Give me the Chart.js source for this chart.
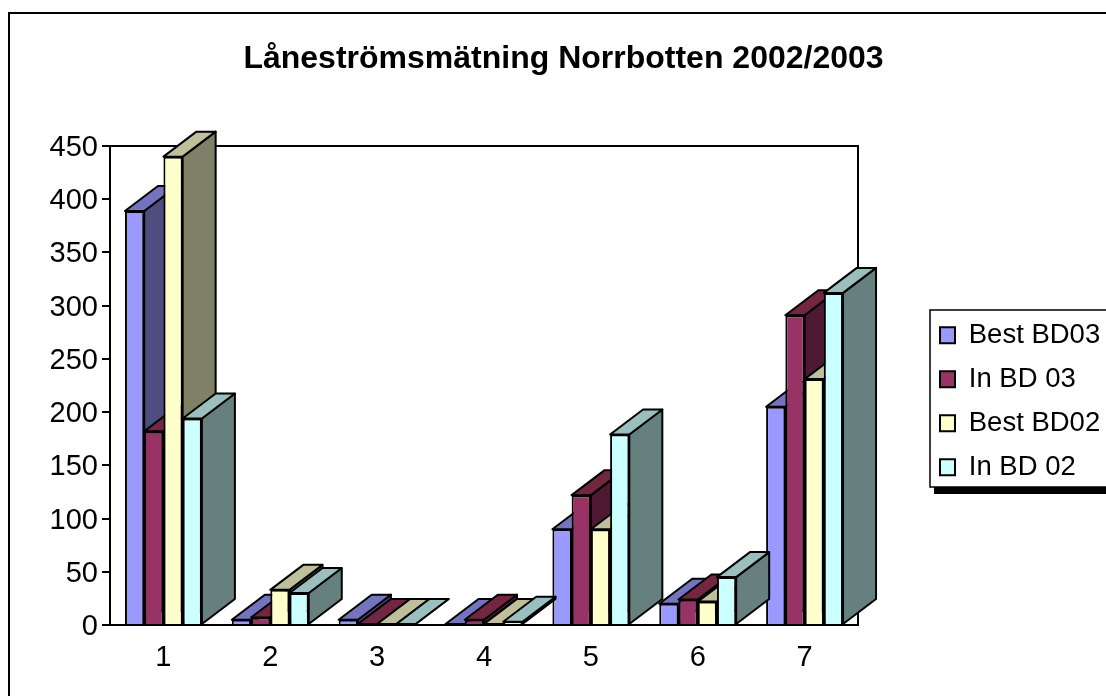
<!DOCTYPE html>
<html lang="sv">

<head>
  <meta charset="UTF-8">
  <title>Låneströmsmätning Norrbotten 2002/2003</title>
  <style>
    html, body { margin: 0; padding: 0; background: #fff; }
    #wrap { width: 1106px; height: 696px; overflow: hidden; }
  </style>
</head>

<body>
  <div id="wrap">
    <canvas id="myChart" width="1106" height="696"></canvas>
  </div>

  <script src="https://cdn.jsdelivr.net/npm/chart.js"></script>

  <script>
    const categories = ['1', '2', '3', '4', '5', '6', '7']
    const seriesNames = ['Best BD03', 'In BD 03', 'Best BD02', 'In BD 02']

    const bestBD03 = [389, 5, 5, 1, 90, 20, 205]
    const inBD03 = [182, 7, 1, 5, 122, 24, 291]
    const bestBD02 = [440, 33, 1, 1, 90, 22, 231]
    const inBD02 = [194, 30, 1, 3, 179, 45, 312]

    const frontColors = ['#9999FF', '#993366', '#FFFFCC', '#CCFFFF']
    const topColors = ['#7373BF', '#732640', '#BFBF99', '#99BFBF']
    const sideColors = ['#4D4D80', '#4D1933', '#808066', '#668080']

    // depth of the fake 3d bars, in px
    const depthX = 33
    const depthY = 25

    function face(ctx, pts, color) {
      ctx.beginPath()
      pts.forEach((p, i) => i ? ctx.lineTo(p[0], p[1]) : ctx.moveTo(p[0], p[1]))
      ctx.closePath()
      ctx.fillStyle = color
      ctx.fill()
      ctx.stroke()
    }

    const bars3d = {
      id: 'bars3d',
      beforeDraw(chart) {
        const ctx = chart.ctx
        ctx.save()
        ctx.fillStyle = '#fff'
        ctx.fillRect(0, 0, chart.width, chart.height)
        ctx.fillStyle = '#000'
        // outer frame, runs off the picture right and bottom
        ctx.fillRect(8, 12, chart.width, 2)
        ctx.fillRect(8, 12, 2, chart.height)
        // legend frame + shadow
        ctx.fillRect(934, 487, chart.width, 7)
        ctx.strokeStyle = '#000'
        ctx.lineWidth = 1.5
        ctx.fillStyle = '#fff'
        ctx.fillRect(930, 310, 200, 177)
        ctx.strokeRect(930, 310, 200, 177)
        ctx.restore()
      },
      afterLayout(chart) {
        const lg = chart.legend
        const w = lg.width, h = lg.height
        lg.left = 923.5
        lg.right = 923.5 + w
        lg.top = 305
        lg.bottom = 305 + h
        chart.titleBlock.left = 21
        chart.titleBlock.right = 1106
      },
      // paint left to right so every bar covers the side of the one before it
      beforeDatasetsDraw(chart) {
        const ctx = chart.ctx
        const a = chart.chartArea
        ctx.save()
        ctx.strokeStyle = '#000'
        ctx.lineWidth = 2
        ctx.strokeRect(a.left, a.top, a.right - a.left, a.bottom - a.top)
        ctx.lineJoin = 'round'
        chart.data.datasets.forEach((ds, d) => {
          chart.getDatasetMeta(d).data.forEach((el) => {
            const l = el.x - el.width / 2
            const r = el.x + el.width / 2
            face(ctx, [[r, el.y], [r + depthX, el.y - depthY], [r + depthX, el.base - depthY], [r, el.base]], sideColors[d])
            face(ctx, [[l, el.y], [l + depthX, el.y - depthY], [r + depthX, el.y - depthY], [r, el.y]], topColors[d])
            el.draw(ctx)
          })
        })
        ctx.restore()
        return false
      }
    }

    Chart.defaults.font.family = '"Liberation Sans", Arial, sans-serif'
    Chart.defaults.color = '#000'

    new Chart(document.getElementById('myChart'), {
      type: 'bar',
      data: {
        labels: categories,
        datasets: [bestBD03, inBD03, bestBD02, inBD02].map((vals, i) => ({
          label: seriesNames[i],
          data: vals,
          backgroundColor: frontColors[i],
          borderColor: '#000',
          borderWidth: 2,
          categoryPercentage: 0.72,
          barPercentage: 1
        }))
      },
      options: {
        responsive: false,
        devicePixelRatio: 1,
        animation: false,
        events: [],
        layout: { padding: { left: 0, right: 248, top: 0, bottom: 0 } },
        plugins: {
          tooltip: { enabled: false },
          title: {
            display: true,
            text: 'Låneströmsmätning Norrbotten 2002/2003',
            font: { size: 32, weight: 'bold' },
            padding: { top: 40, bottom: 67.6 }
          },
          legend: {
            position: 'chartArea',
            align: 'start',
            labels: {
              boxWidth: 15,
              boxHeight: 16,
              padding: 16.5,
              font: { size: 27.5 },
              color: '#000'
            }
          }
        },
        scales: {
          x: {
            afterFit(s) { s.height = 71 },
            grid: { display: false },
            border: { color: '#000', width: 2 },
            ticks: { padding: 8, font: { size: 29 }, maxRotation: 0 }
          },
          y: {
            min: 0,
            max: 450,
            afterFit(s) { s.width = 110 },
            grid: { drawOnChartArea: false, tickLength: 8, color: '#000', lineWidth: 2 },
            border: { color: '#000', width: 2 },
            ticks: { stepSize: 50, padding: 4, labelOffset: 2, font: { size: 29 } }
          }
        }
      },
      plugins: [bars3d]
    })
  </script>
</body>

</html>
